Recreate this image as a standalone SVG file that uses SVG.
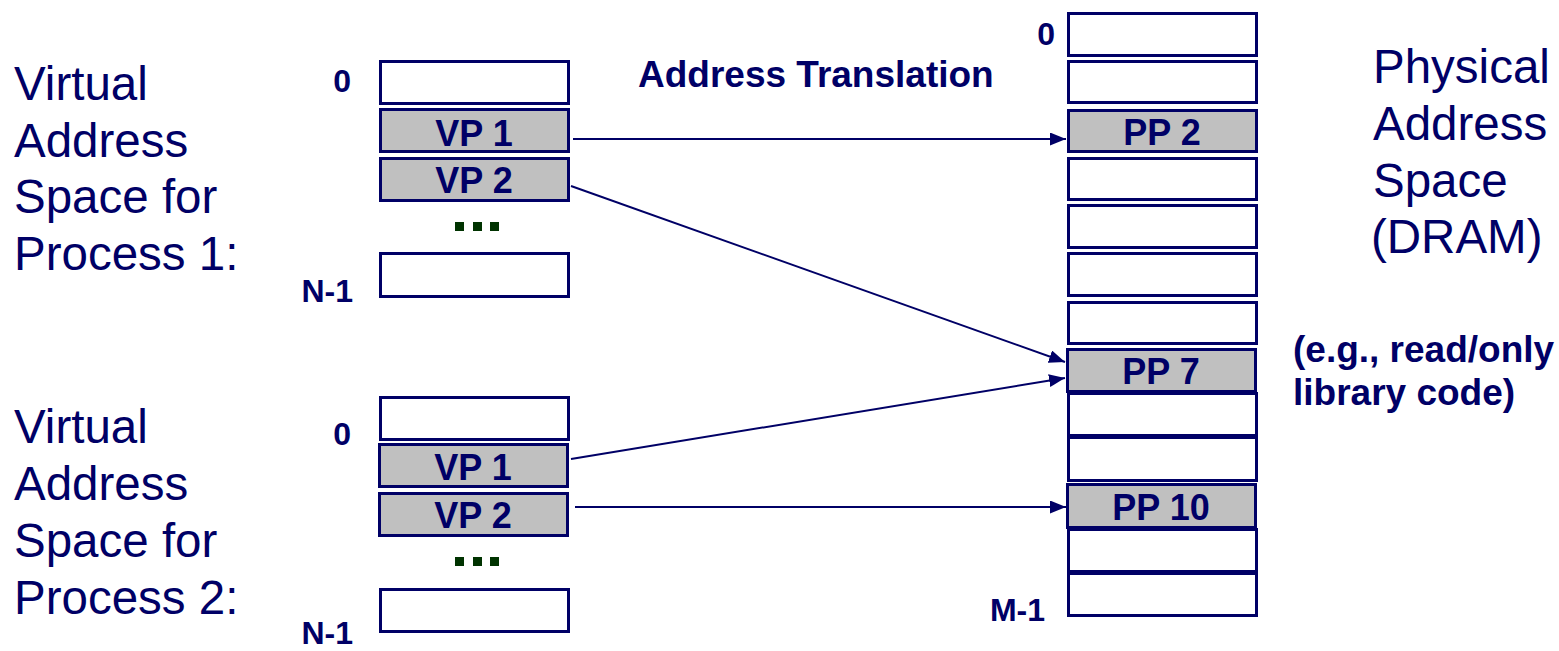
<svg xmlns="http://www.w3.org/2000/svg" width="1559" height="651" viewBox="0 0 1559 651">
<style>
  .box { fill: #ffffff; stroke: #000066; stroke-width: 3; }
  .page { fill: #c0c0c0; stroke: #000066; stroke-width: 3; }
  .lbl { font-family: "Liberation Sans", Arial, sans-serif; font-size: 47.5px; fill: #000066; }
  .idx { font-family: "Liberation Sans", Arial, sans-serif; font-size: 32px; font-weight: bold; fill: #000066; }
  .pg { font-family: "Liberation Sans", Arial, sans-serif; font-size: 36px; font-weight: bold; fill: #000066; text-anchor: middle; }
  .note { font-family: "Liberation Sans", Arial, sans-serif; font-size: 37px; font-weight: bold; fill: #000066; }
  .dot { fill: #003300; }
  .conn { stroke: #000066; stroke-width: 2; fill: none; marker-end: url(#ah); }
</style>
<defs>
  <marker id="ah" markerUnits="userSpaceOnUse" markerWidth="17" markerHeight="13" refX="16" refY="6.5" orient="auto">
    <path d="M0,0 L16,6.5 L0,13 z" fill="#000066"/>
  </marker>
</defs>
<rect width="1559" height="651" fill="#ffffff"/>

<g id="vas1-label">
  <text class="lbl" x="14" y="100">Virtual</text>
  <text class="lbl" x="14" y="157">Address</text>
  <text class="lbl" x="14" y="213">Space for</text>
  <text class="lbl" x="14" y="270">Process 1:</text>
</g>
<g id="vas2-label">
  <text class="lbl" x="14" y="443">Virtual</text>
  <text class="lbl" x="14" y="500">Address</text>
  <text class="lbl" x="14" y="557">Space for</text>
  <text class="lbl" x="14" y="614">Process 2:</text>
</g>
<g id="pas-label">
  <text class="lbl" x="1373" y="83">Physical</text>
  <text class="lbl" x="1373" y="140">Address</text>
  <text class="lbl" x="1373" y="197">Space</text>
  <text class="lbl" x="1371" y="253">(DRAM)</text>
</g>
<g id="title">
  <text class="note" x="638" y="87">Address Translation</text>
</g>
<g id="note">
  <text class="note" x="1293" y="362">(e.g., read/only</text>
  <text class="note" x="1293" y="405">library code)</text>
</g>

<g id="vas1">
  <text class="idx" x="351" y="92" text-anchor="end">0</text>
  <text class="idx" x="353" y="302" text-anchor="end">N-1</text>
  <rect class="box" x="380.5" y="61.5" width="188" height="42"/>
  <g id="vas1-vp1">
    <rect class="page" x="380.5" y="109.5" width="188" height="42"/>
    <text class="pg" x="474" y="146">VP 1</text>
  </g>
  <g id="vas1-vp2">
    <rect class="page" x="380.5" y="158.5" width="188" height="42"/>
    <text class="pg" x="474" y="193">VP 2</text>
  </g>
  <rect class="dot" x="455" y="222" width="9" height="9"/>
  <rect class="dot" x="473" y="222" width="9" height="9"/>
  <rect class="dot" x="490" y="222" width="9" height="9"/>
  <rect class="box" x="380.5" y="253.5" width="188" height="43"/>
</g>

<g id="vas2">
  <text class="idx" x="351" y="445" text-anchor="end">0</text>
  <text class="idx" x="353" y="644" text-anchor="end">N-1</text>
  <rect class="box" x="380.5" y="397.5" width="188" height="42"/>
  <g id="vas2-vp1">
    <rect class="page" x="379.5" y="444.5" width="188" height="42"/>
    <text class="pg" x="473" y="480">VP 1</text>
  </g>
  <g id="vas2-vp2">
    <rect class="page" x="379.5" y="493.5" width="188" height="42"/>
    <text class="pg" x="473" y="528">VP 2</text>
  </g>
  <rect class="dot" x="455" y="557" width="9" height="9"/>
  <rect class="dot" x="473" y="557" width="9" height="9"/>
  <rect class="dot" x="490" y="557" width="9" height="9"/>
  <rect class="box" x="380.5" y="589.5" width="188" height="42"/>
</g>

<g id="pas">
  <text class="idx" x="1055" y="45" text-anchor="end">0</text>
  <text class="idx" x="1045" y="621" text-anchor="end">M-1</text>
  <rect class="box" x="1068.5" y="13.5" width="188" height="42"/>
  <rect class="box" x="1068.5" y="61.5" width="188" height="41"/>
  <g id="pas-pp2">
    <rect class="page" x="1068.5" y="110.5" width="188" height="41"/>
    <text class="pg" x="1162" y="145">PP 2</text>
  </g>
  <rect class="box" x="1068.5" y="158.5" width="188" height="41"/>
  <rect class="box" x="1068.5" y="205.5" width="188" height="42"/>
  <rect class="box" x="1068.5" y="253.5" width="188" height="42"/>
  <rect class="box" x="1068.5" y="302.5" width="188" height="41"/>
  <rect class="box" x="1068.5" y="393.5" width="188" height="42"/>
  <rect class="box" x="1068.5" y="437.5" width="188" height="43"/>
  <rect class="box" x="1068.5" y="529.5" width="188" height="42"/>
  <rect class="box" x="1068.5" y="573.5" width="188" height="42"/>
  <g id="pas-pp7">
    <rect class="page" x="1067.5" y="349.5" width="188" height="42"/>
    <text class="pg" x="1161" y="384">PP 7</text>
  </g>
  <g id="pas-pp10">
    <rect class="page" x="1067.5" y="484.5" width="188" height="43"/>
    <text class="pg" x="1161" y="520">PP 10</text>
  </g>
</g>

<g id="connectors">
  <line class="conn" x1="573" y1="139" x2="1066" y2="139"/>
  <line class="conn" x1="571" y1="186" x2="1065" y2="362"/>
  <line class="conn" x1="571" y1="459" x2="1065" y2="378"/>
  <line class="conn" x1="575" y1="507" x2="1066" y2="507"/>
</g>
</svg>
